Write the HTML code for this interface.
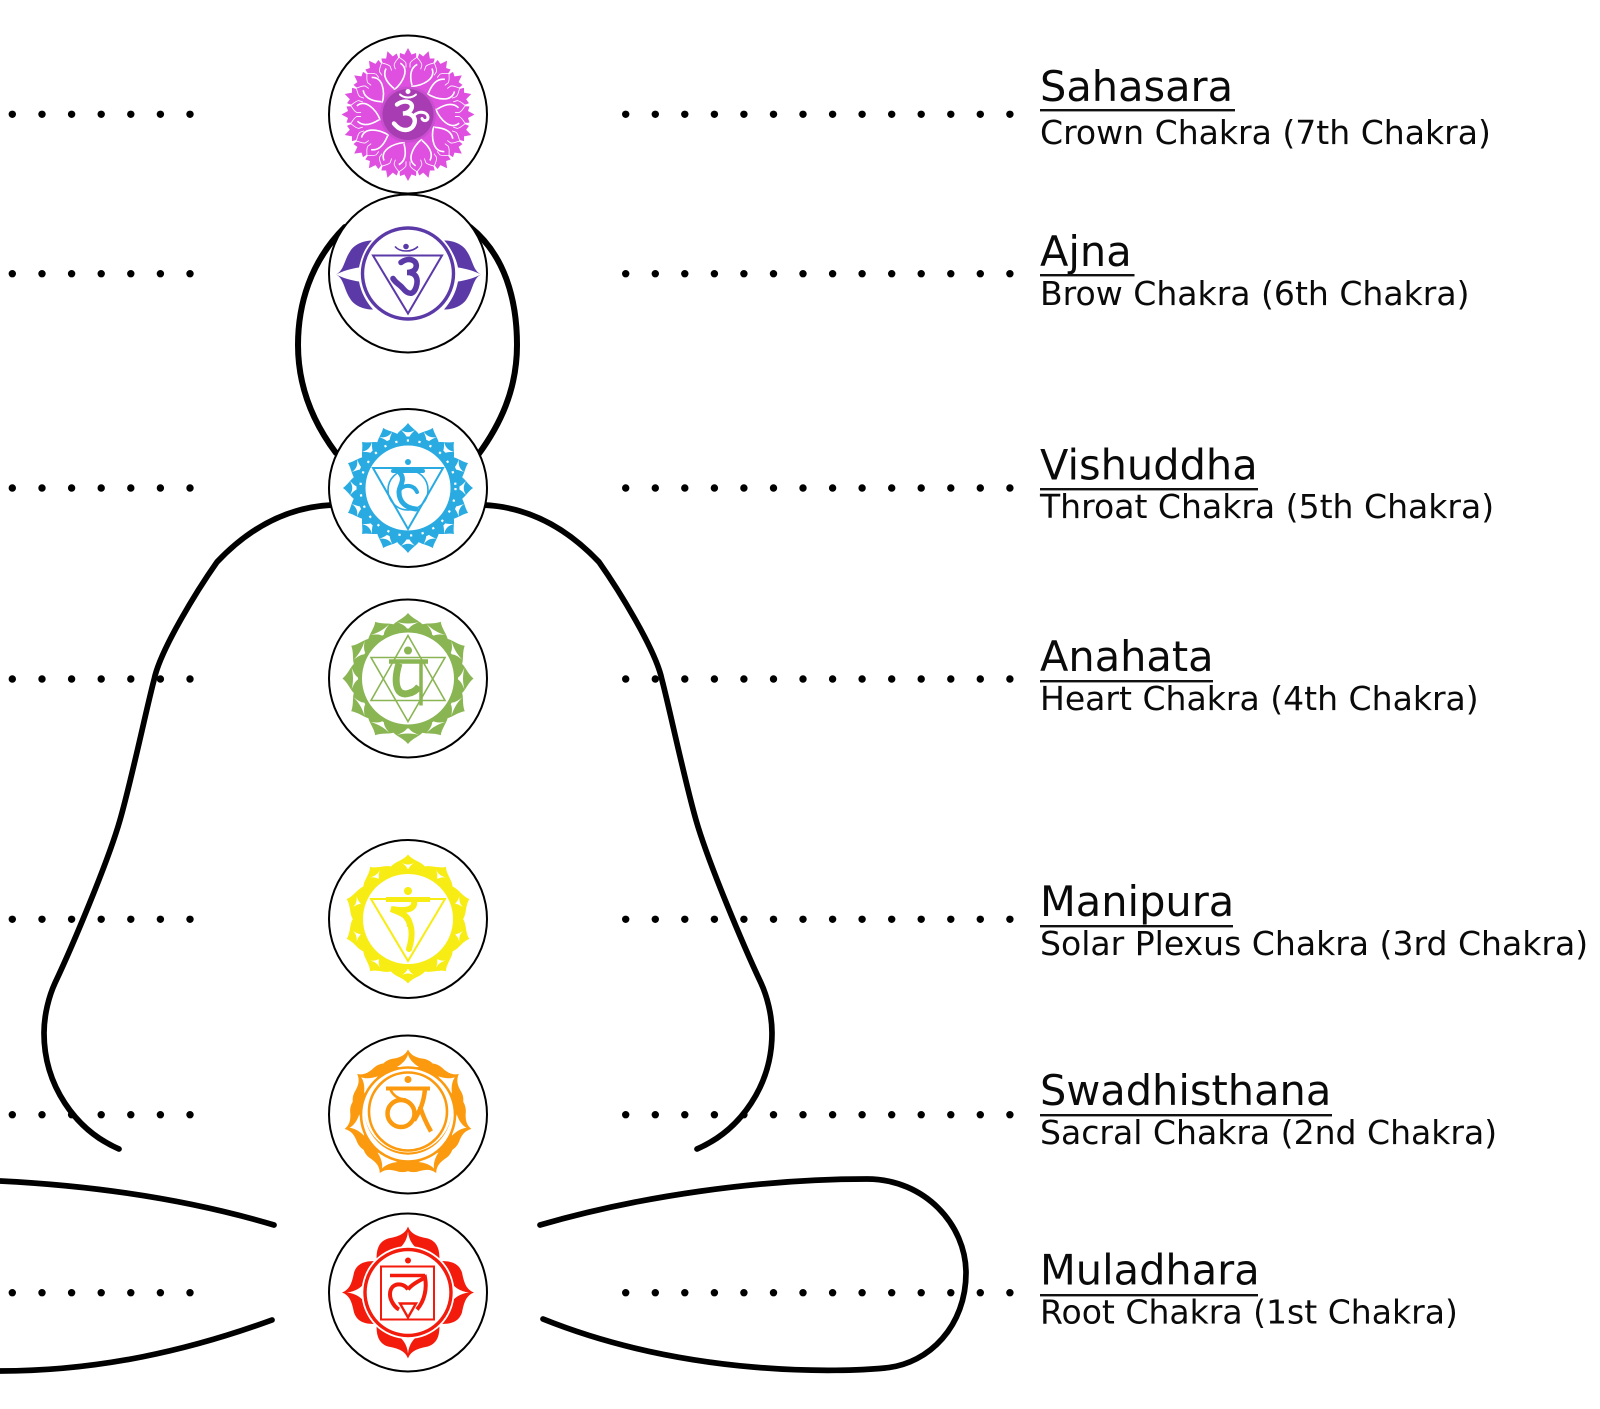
<!DOCTYPE html>
<html><head><meta charset="utf-8"><title>Chakras</title>
<style>html,body{margin:0;padding:0;background:#fff}svg{display:block}text{font-family:"DejaVu Sans","Liberation Sans",sans-serif;fill:#0a0a0a}.t{font-size:41.5px}.s{font-size:33.05px}</style></head>
<body>
<svg xmlns="http://www.w3.org/2000/svg" width="1600" height="1409" viewBox="0 0 1600 1409">
<defs>
<g id="dots7"><circle cx="12.3" r="3.7"/><circle cx="42" r="3.7"/><circle cx="71.6" r="3.7"/><circle cx="101.2" r="3.7"/><circle cx="130.8" r="3.7"/><circle cx="160.4" r="3.7"/><circle cx="190" r="3.7"/></g>
<g id="dots14"><circle cx="625.7" r="3.7"/><circle cx="655.3" r="3.7"/><circle cx="684.8" r="3.7"/><circle cx="714.4" r="3.7"/><circle cx="743.9" r="3.7"/><circle cx="773.5" r="3.7"/><circle cx="803" r="3.7"/><circle cx="832.6" r="3.7"/><circle cx="862.1" r="3.7"/><circle cx="891.7" r="3.7"/><circle cx="921.2" r="3.7"/><circle cx="950.8" r="3.7"/><circle cx="980.3" r="3.7"/><circle cx="1009.9" r="3.7"/></g>
<g id="dotsrow"><use href="#dots7"/><use href="#dots14"/></g>
<path id="cp" d="M0 -66.5L3.5 -60L8 -61.5C9 -56 7 -52 5 -45L-5 -45C-7 -52 -9 -56 -8 -61.5L-3.5 -60Z" fill="#df4fe0"/>
<path id="cq" d="M0 -58C3 -55 5 -54 6 -51L5 -44L-5 -44L-6 -51C-5 -54 -3 -55 0 -58Z" fill="#df4fe0" stroke="#fff" stroke-width=".8" transform="rotate(9)"/>
<g id="cp5"><use href="#cp"/><use href="#cp" transform="rotate(18)"/><use href="#cp" transform="rotate(36)"/><use href="#cp" transform="rotate(54)"/><use href="#cp" transform="rotate(72)"/></g>
<g id="cq5"><use href="#cq"/><use href="#cq" transform="rotate(18)"/><use href="#cq" transform="rotate(36)"/><use href="#cq" transform="rotate(54)"/><use href="#cq" transform="rotate(72)"/></g>
<path id="cl" d="M3 -28C16 -29 28 -36 24 -46M-22 -46C-26 -38 -20 -31 -14 -26" fill="none" stroke="#fff" stroke-width="1.6"/>
<g id="vp"><path d="M-14 -46C-13 -56 -5 -58 0 -65C5 -58 13 -56 14 -46Z" fill="#29abe2"/><path d="M-7 -58C-3 -54 -1 -52 0 -47C1 -52 3 -54 7 -58C2 -55 -2 -55 -7 -58Z" fill="#fff"/></g>
<g id="vp4"><use href="#vp"/><use href="#vp" transform="rotate(22.5)"/><use href="#vp" transform="rotate(45)"/><use href="#vp" transform="rotate(67.5)"/></g>
<g id="ap"><path d="M-18 -45C-18 -57 -7 -57 0 -65.5C7 -57 18 -57 18 -45Z" fill="#8ab553"/><path d="M-11 -56.5C-5 -54 -1 -52 0 -47.5C1 -52 5 -54 11 -56.5C4 -54.5 -4 -54.5 -11 -56.5Z" fill="#fff"/></g>
<g id="ap3"><use href="#ap"/><use href="#ap" transform="rotate(30)"/><use href="#ap" transform="rotate(60)"/></g>
<g id="mp"><path d="M-21 -43C-19 -58 -7 -56 0 -64.5C7 -56 19 -58 21 -43Z" fill="#f7ec13"/><path d="M-6 -56C-3 -54 -1 -52 0 -49C1 -52 3 -54 6 -56C2 -54 -2 -54 -6 -56Z" fill="#fff"/></g>
<g id="sp"><path d="M-28 -34C-32 -46 -24 -55 -14 -56C-8 -57 -3 -59 0 -65C3 -59 8 -57 14 -56C24 -55 32 -46 28 -34Z" fill="#fb9a0f"/><path d="M-11 -47.5C-5 -47 -2 -47 0 -45C2 -47 5 -47 11 -47.5C5 -51 1 -56 0 -60C-1 -56 -5 -51 -11 -47.5Z" fill="#fff"/></g>
<g id="rp"><path d="M-30 -20C-33 -38 -32 -50 -20 -54C-10 -56 -3 -58 0 -66C3 -58 10 -56 20 -54C32 -50 33 -38 30 -20Z" fill="#f31b0c"/><path d="M0 -61C-1 -52 -5 -46 -13 -41C-6 -41 -2 -40 0 -37C2 -40 6 -41 13 -41C5 -46 1 -52 0 -61Z" fill="#fff"/></g>
</defs>

<g fill="#000">
<use href="#dotsrow" y="114.3"/><use href="#dotsrow" y="273.7"/><use href="#dotsrow" y="488"/><use href="#dotsrow" y="679"/><use href="#dotsrow" y="919.3"/><use href="#dotsrow" y="1114.7"/><use href="#dotsrow" y="1292.7"/>
</g>

<g fill="none" stroke="#000" stroke-width="5.7" stroke-linecap="round">
<path d="M332 505C290 507 252 525 217 562C198 589 160 650 154 680C147 706 132 778 120 820C108 862 72 947 55 983C49 996 44 1015 44 1033C44 1085 75 1130 119 1149"/>
<path d="M484 505C526 507 564 525 599 562C618 589 656 650 662 680C669 706 684 778 696 820C708 862 744 947 761 983C767 996 772 1015 772 1033C772 1085 741 1130 697 1149"/>
<path d="M345 227C310 262 298 305 298 345C298 390 315 425 336 453" stroke-width="6"/>
<path d="M470 227C505 255 517 300 517 345C517 390 500 425 478 455" stroke-width="6"/>
<path d="M540 1225C640 1196 760 1179 867 1179C925 1179 966 1225 966 1273C966 1325 930 1364 885 1368C845 1372 690 1378 543 1319"/>
<path d="M0 1181C100 1186 190 1200 274 1225"/>
<path d="M0 1371C100 1371 190 1350 272 1320"/>
</g>

<g fill="#fff" stroke="#000" stroke-width="2">
<circle cx="408" cy="114.5" r="79"/><circle cx="408" cy="273.5" r="79"/><circle cx="408" cy="488" r="79"/><circle cx="408" cy="678.5" r="79"/><circle cx="408" cy="919" r="79"/><circle cx="408" cy="1114.5" r="79"/><circle cx="408" cy="1292.5" r="79"/>
</g>

<!-- Crown -->
<g transform="translate(408 114.5)">
<use href="#cp5"/><use href="#cp5" transform="rotate(90)"/><use href="#cp5" transform="rotate(180)"/><use href="#cp5" transform="rotate(270)"/>
<use href="#cq5"/><use href="#cq5" transform="rotate(90)"/><use href="#cq5" transform="rotate(180)"/><use href="#cq5" transform="rotate(270)"/>
<circle r="47" fill="#df4fe0"/>
<g><use href="#cl"/><use href="#cl" transform="rotate(36)"/><use href="#cl" transform="rotate(72)"/><use href="#cl" transform="rotate(108)"/><use href="#cl" transform="rotate(144)"/><use href="#cl" transform="rotate(180)"/><use href="#cl" transform="rotate(216)"/><use href="#cl" transform="rotate(252)"/><use href="#cl" transform="rotate(288)"/><use href="#cl" transform="rotate(324)"/></g>
<circle r="28" fill="#c94fd0"/><circle r="25.5" fill="#a83cb2"/>
<g fill="none" stroke="#fff" stroke-width="4.4" stroke-linecap="round"><path d="M-11 -10C-3 -16 7 -12 3 -5C1 -2 -3 -1 -5 -1C3 -2 9 3 6 10C3 17 -7 18 -14 9"/><path d="M6 1C10 -4 20 -3 20 3C20 7 15 7 14 4" stroke-width="3"/><path d="M-8 -20C-4 -16 4 -16 8 -20" stroke-width="2"/></g>
<circle cy="-23" r="2.5" fill="#fff"/>
</g>

<!-- Ajna -->
<g transform="translate(408 273.5)" fill="#5b3aa8">
<g id="wing"><path d="M-72 1C-64 -3 -64 -13 -58 -22C-54 -29 -45 -33 -35 -33C-42 -25 -47 -16 -49 -6C-56 -5 -64 -3 -72 1Z"/><path d="M-72 1C-64 5 -64 16 -58 25C-54 32 -45 36 -35 36C-42 28 -47 19 -49 8C-56 7 -64 5 -72 1Z"/></g>
<use href="#wing" transform="scale(-1 1) translate(-1 0)"/>
<circle r="49" fill="#fff"/>
<circle r="45.5" fill="#fff" stroke="#5b3aa8" stroke-width="3.4"/>
<path d="M-35 -18H34L0 40Z" fill="none" stroke="#5b3aa8" stroke-width="2"/>
<circle cx="-2" cy="-27" r="2.8"/>
<path d="M-13 -27C-8 -21 4 -21 10 -27" fill="none" stroke="#5b3aa8" stroke-width="1.6"/>
<g fill="none" stroke="#5b3aa8" stroke-width="5.6" stroke-linecap="round"><path d="M-7 -11C1 -17 10 -13 8 -6C7 -2 2 -1 -1 -1C8 -1 11 5 8 14C5 22 0 21 -5 15C-8 11 -12 10 -15 5"/></g>
</g>

<!-- Vishuddha -->
<g transform="translate(408 488)">
<use href="#vp4"/><use href="#vp4" transform="rotate(90)"/><use href="#vp4" transform="rotate(180)"/><use href="#vp4" transform="rotate(270)"/>
<circle r="47" fill="#fff" stroke="#29abe2" stroke-width="9"/>
<circle r="47.5" fill="none" stroke="#fff" stroke-width="2.2" stroke-dasharray="2.2 9.5"/>
<path d="M-35 -20H35L0 41Z" fill="none" stroke="#29abe2" stroke-width="2"/>
<circle cy="2" r="20" fill="none" stroke="#29abe2" stroke-width="1.6"/>
<circle cy="-26" r="3" fill="#29abe2"/>
<g fill="none" stroke="#29abe2" stroke-linecap="round"><path d="M-15 -17H15" stroke-width="4"/><path d="M-8 -15C-2 -8 -9 -2 -9 4C-9 14 -2 20 8 21" stroke-width="5"/><path d="M-8 1C-2 -4 6 -3 9 4" stroke-width="4"/></g>
</g>

<!-- Anahata -->
<g transform="translate(408 678.5)">
<use href="#ap3"/><use href="#ap3" transform="rotate(90)"/><use href="#ap3" transform="rotate(180)"/><use href="#ap3" transform="rotate(270)"/>
<circle r="48" fill="#fff" stroke="#8ab553" stroke-width="4"/>
<g fill="none" stroke="#8ab553" stroke-width="1.6"><path d="M0 -43L37 22H-37Z"/><path d="M0 43L37 -21H-37Z"/></g>
<circle cy="-28" r="4" fill="#8ab553"/>
<g fill="none" stroke="#8ab553"><path d="M-19 -17H20" stroke-width="4.5"/><path d="M-9 -15C-15 5 -11 18 0 15C5 14 9 11 11 8" stroke-width="7"/><path d="M13 -15V27" stroke-width="3.5"/></g>
</g>

<!-- Manipura -->
<g transform="translate(408 919)">
<use href="#mp"/><use href="#mp" transform="rotate(36)"/><use href="#mp" transform="rotate(72)"/><use href="#mp" transform="rotate(108)"/><use href="#mp" transform="rotate(144)"/><use href="#mp" transform="rotate(180)"/><use href="#mp" transform="rotate(216)"/><use href="#mp" transform="rotate(252)"/><use href="#mp" transform="rotate(288)"/><use href="#mp" transform="rotate(324)"/>
<circle r="47.5" fill="#fff" stroke="#f7ec13" stroke-width="5"/>
<path d="M-37 -20H37L0 42Z" fill="none" stroke="#f7ec13" stroke-width="2"/>
<circle cy="-28" r="4" fill="#f7ec13"/>
<g fill="none" stroke="#f7ec13"><path d="M-22 -19.5H22" stroke-width="5"/><path d="M6 -18C8 -8 -6 -8 -17 -10C-6 -6 2 -3 2 8" stroke-width="6"/><path d="M-2 -2C3 4 6 14 1 30" stroke-width="6" stroke-linecap="round"/></g>
</g>

<!-- Swadhisthana -->
<g transform="translate(408 1114.5)">
<use href="#sp"/><use href="#sp" transform="rotate(51.43)"/><use href="#sp" transform="rotate(102.86)"/><use href="#sp" transform="rotate(154.29)"/><use href="#sp" transform="rotate(205.71)"/><use href="#sp" transform="rotate(257.14)"/><use href="#sp" transform="rotate(308.57)"/>
<circle r="47" fill="#fff" stroke="#fb9a0f" stroke-width="2.6"/>
<path d="M-44 -6A44 44 0 1 0 44 -6A40 42 0 1 1 -44 -6Z" fill="#fb9a0f"/>
<circle cx="0" cy="-3" r="39" fill="none" stroke="#fb9a0f" stroke-width="2.6"/>
<circle cy="-35" r="3.5" fill="#fb9a0f"/>
<g fill="none" stroke="#fb9a0f"><path d="M-22 -26H22" stroke-width="4"/><circle cx="-7" cy="-1" r="13.5" stroke-width="4.5"/><path d="M-18 -26C-15 -18 -8 -15 -2 -15" stroke-width="2.5"/><path d="M17 -26C16 -12 12 -4 6 6M12 -8C15 2 19 10 23 17" stroke-width="4.5"/></g>
</g>

<!-- Muladhara -->
<g transform="translate(408 1292.5)">
<use href="#rp"/><use href="#rp" transform="rotate(90)"/><use href="#rp" transform="rotate(180)"/><use href="#rp" transform="rotate(270)"/>
<circle r="46.5" fill="#fff"/>
<circle r="43" fill="#fff" stroke="#f31b0c" stroke-width="3.4"/>
<rect x="-27" y="-26" width="53" height="53" fill="#fff" stroke="#f31b0c" stroke-width="2"/>
<circle cy="-32" r="3" fill="#f31b0c"/>
<g fill="none" stroke="#f31b0c"><path d="M-18 -17H17" stroke-width="3.4"/><path d="M0 -3C-5 -11 -18 -10 -18 2C-18 8 -13 15 -9 17M0 -3C4 -9 14 -13 17 -15C19 -5 17 8 9 17" stroke-width="4"/></g>
<path d="M-8 11H8L0 25Z" fill="#fff" stroke="#f31b0c" stroke-width="2.4"/>
</g>

<!-- Labels -->
<text class="t" x="1040" y="101">Sahasara</text><rect x="1040" y="109" width="195" height="2.4" fill="#111"/><text class="s" x="1040" y="144">Crown Chakra (7th Chakra)</text>
<text class="t" x="1040" y="266">Ajna</text><rect x="1040" y="274" width="94.5" height="2.4" fill="#111"/><text class="s" x="1040" y="305">Brow Chakra (6th Chakra)</text>
<text class="t" x="1040" y="479.5">Vishuddha</text><rect x="1040" y="488" width="218" height="2.4" fill="#111"/><text class="s" x="1040" y="518">Throat Chakra (5th Chakra)</text>
<text class="t" x="1040" y="671">Anahata</text><rect x="1040" y="680" width="173" height="2.4" fill="#111"/><text class="s" x="1040" y="710">Heart Chakra (4th Chakra)</text>
<text class="t" x="1040" y="916">Manipura</text><rect x="1040" y="925" width="193" height="2.4" fill="#111"/><text class="s" x="1040" y="955">Solar Plexus Chakra (3rd Chakra)</text>
<text class="t" x="1040" y="1105">Swadhisthana</text><rect x="1040" y="1114" width="292" height="2.4" fill="#111"/><text class="s" x="1040" y="1144">Sacral Chakra (2nd Chakra)</text>
<text class="t" x="1040" y="1284.5">Muladhara</text><rect x="1040" y="1294" width="218" height="2.4" fill="#111"/><text class="s" x="1040" y="1323.5">Root Chakra (1st Chakra)</text>
</svg>
</body></html>
